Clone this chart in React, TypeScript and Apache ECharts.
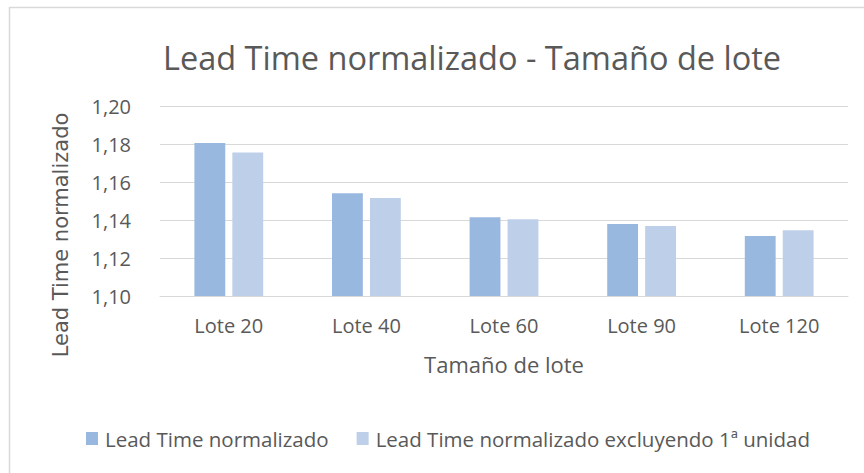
import React, { useEffect, useRef } from "react";
import * as echarts from "echarts";

const categories = ["Lote 20", "Lote 40", "Lote 60", "Lote 90", "Lote 120"];
const seriesNames = ["Lead Time normalizado", "Lead Time normalizado excluyendo 1ª unidad"];
const leadTime = [1.1805, 1.1541, 1.1414, 1.1379, 1.1316];
const leadTimeExcl = [1.1755, 1.1516, 1.1404, 1.1369, 1.1346];
const titleText = "Lead Time normalizado - Tamaño de lote";
const xAxisTitle = "Tamaño de lote";
const yAxisTitle = "Lead Time normalizado";

export default function App() {
  const ref = useRef<HTMLDivElement>(null);
  useEffect(() => {
    if (!ref.current) return;
    const chart = echarts.init(ref.current, undefined, { renderer: "svg" });
    const font = "'Open Sans', sans-serif";
    const txt = "#595959";
    chart.setOption({
      animation: false,
      backgroundColor: "#ffffff",
      textStyle: { fontFamily: font },
      grid: { left: 160, right: 16, top: 106, bottom: 177, containLabel: false },
      graphic: [
        {
          type: "rect",
          shape: { x: 9.5, y: 7.5, width: 1000, height: 1000 },
          style: { fill: "none", stroke: "#d9d9d9", lineWidth: 1.5 },
          silent: true,
        },
        {
          type: "text",
          x: 472,
          y: 57,
          style: {
            text: titleText,
            align: "center",
            verticalAlign: "middle",
            fontFamily: font,
            fontSize: 32.5,
            fill: txt,
          },
        },
        {
          type: "text",
          x: 61,
          y: 235,
          rotation: Math.PI / 2,
          style: {
            text: yAxisTitle,
            align: "center",
            verticalAlign: "middle",
            fontFamily: "'DejaVu Sans', Verdana, sans-serif",
            fontSize: 21,
            fill: txt,
          },
        },
      ],
      legend: {
        left: 81,
        top: 423,
        itemWidth: 12,
        itemHeight: 13,
        itemGap: 28,
        icon: "rect",
        textStyle: { fontFamily: font, fontSize: 20.5, color: txt, padding: [0, 0, 0, 2] },
        data: seriesNames,
      },
      xAxis: {
        type: "category",
        data: categories,
        name: xAxisTitle,
        nameLocation: "middle",
        nameGap: 57,
        nameTextStyle: { fontFamily: font, fontSize: 22, color: txt },
        axisLine: { lineStyle: { color: "#d9d9d9", width: 1 } },
        axisTick: { show: false },
        axisLabel: { fontFamily: font, fontSize: 20, color: txt, margin: 19 },
      },
      yAxis: {
        type: "value",
        min: 1.1,
        max: 1.2,
        interval: 0.02,
        axisLine: { show: false },
        axisTick: { show: false },
        splitLine: { lineStyle: { color: "#d9d9d9", width: 1 } },
        axisLabel: {
          fontFamily: font,
          fontSize: 20,
          color: txt,
          margin: 29,
          formatter: (v: number) => v.toFixed(2).replace(".", ","),
        },
      },
      series: [
        {
          name: seriesNames[0],
          type: "bar",
          data: leadTime,
          barGap: "23%",
          barCategoryGap: "50%",
          itemStyle: { color: "#99B8DF" },
        },
        {
          name: seriesNames[1],
          type: "bar",
          data: leadTimeExcl,
          barGap: "23%",
          barCategoryGap: "50%",
          itemStyle: { color: "#BED0E9" },
        },
      ],
    });
    return () => chart.dispose();
  }, []);
  return (
    <div
      ref={ref}
      style={{ position: "absolute", left: 0, top: 0, width: 864, height: 473 }}
    />
  );
}
